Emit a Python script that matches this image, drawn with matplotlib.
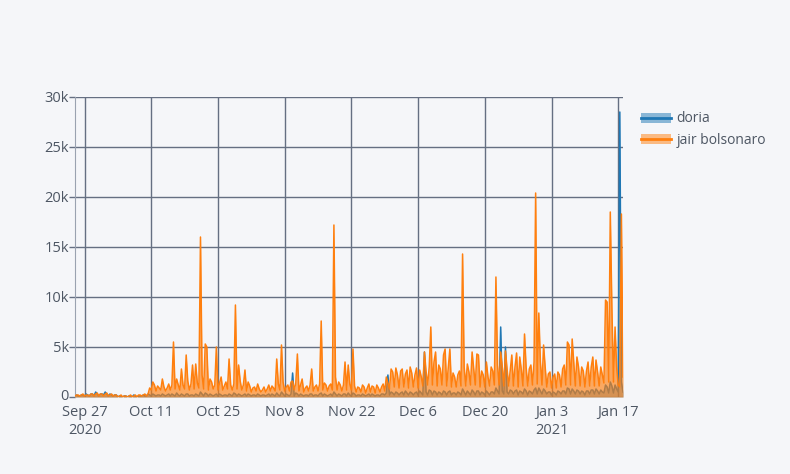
import numpy as np
import pandas as pd
import matplotlib
matplotlib.use("Agg")
from matplotlib import pyplot as plt
from matplotlib.patches import Patch
from matplotlib.lines import Line2D
from matplotlib.transforms import ScaledTranslation

# valeurs en milliers, 3 points par jour (0h, 8h, 16h) a partir du 25 sept 2020
jair_sep = [0.1,0.2,0.2, 0.1,0.2,0.3, 0.1,0.2,0.2, 0.1,0.3,0.3, 0.1,0.3,0.4, 0.1,0.3,0.3]
jair_oct = [0.1,0.3,0.4, 0.1,0.2,0.3, 0.1,0.2,0.2, 0.0,0.1,0.2, 0.0,0.1,0.1, 0.0,0.1,0.2,
            0.0,0.1,0.2, 0.0,0.2,0.2, 0.1,0.2,0.3, 0.1,0.3,0.9, 0.7,1.5,1.2, 0.6,1.1,0.9,
            0.7,1.8,1.0, 0.6,0.9,1.3, 0.7,1.2,5.5, 0.8,1.8,1.2, 0.7,2.8,1.2, 0.8,4.2,1.6,
            0.7,1.3,3.2, 0.8,3.3,1.4, 0.9,16.0,2.2, 0.8,5.3,5.0, 0.7,1.8,1.5, 0.8,1.2,5.0,
            0.7,1.4,2.0, 0.7,1.1,1.5, 0.8,3.8,1.2, 0.7,1.3,9.2, 0.8,3.2,1.6, 0.7,1.2,2.7,
            0.6,1.5,1.1]
jair_nov = [0.5,0.9,1.0, 0.6,1.3,0.8, 0.5,0.7,1.0, 0.5,0.8,1.2, 0.6,1.1,0.9, 0.6,3.8,1.3,
            0.7,5.2,1.5, 0.6,1.0,1.2, 0.6,1.5,1.6, 0.7,1.4,4.3, 0.6,1.2,1.8, 0.5,0.9,1.1,
            0.6,1.2,2.8, 0.6,1.0,1.2, 0.6,1.3,7.6, 0.7,1.4,1.2, 0.6,1.1,1.3, 0.7,17.2,2.0,
            0.7,1.5,1.2, 0.6,1.2,3.5, 0.7,3.2,1.3, 0.7,4.8,1.1, 0.5,1.0,0.9, 0.5,1.2,1.0,
            0.4,0.9,1.3, 0.5,1.1,1.0, 0.4,1.2,0.9, 0.5,1.0,1.3, 0.6,2.0,1.4, 0.8,2.8,2.5]
jair_dec = [1.0,2.9,2.2, 0.9,2.6,2.8, 1.0,2.3,2.7, 0.9,3.0,2.4, 1.0,2.2,2.9, 0.9,2.7,2.0,
            1.1,4.5,2.6, 1.2,3.0,7.0, 1.2,3.5,4.5, 1.1,3.2,2.8, 1.2,4.2,4.8, 1.1,3.0,4.8,
            1.0,2.4,2.0, 1.0,2.2,2.6, 1.1,14.3,3.0, 1.1,3.3,2.5, 1.2,4.5,2.8, 1.2,4.3,4.2,
            1.0,2.6,2.2, 1.0,3.5,2.0, 1.1,3.0,2.6, 1.2,12.0,3.2, 1.2,4.5,3.0, 1.1,4.6,2.8,
            1.1,2.6,4.2, 1.1,3.0,4.4, 1.0,4.0,2.7, 1.1,6.3,3.0, 1.1,2.8,3.2, 1.2,3.5,20.4,
            1.3,8.4,3.5]
jair_jan = [1.2,5.2,3.0, 1.0,2.3,2.5, 0.9,2.0,2.3, 0.9,2.5,2.2, 1.0,2.8,3.2, 1.2,5.5,5.2,
            1.2,5.8,3.5, 1.1,4.0,3.0, 1.1,3.0,2.6, 1.0,2.6,3.5, 1.1,3.0,4.0, 1.1,3.7,2.5,
            1.1,3.0,2.2, 1.4,9.7,9.5, 1.5,18.5,9.0, 1.5,7.0,3.0, 1.2,1.0,18.3, 2.0]

doria_sep = [0.1,0.2,0.1, 0.1,0.2,0.2, 0.1,0.3,0.2, 0.1,0.3,0.3, 0.1,0.5,0.3, 0.1,0.3,0.3]
doria_oct = [0.2,0.5,0.3, 0.1,0.3,0.2, 0.1,0.2,0.2, 0.0,0.1,0.1, 0.0,0.1,0.1, 0.0,0.1,0.1,
             0.0,0.2,0.1, 0.0,0.1,0.1, 0.1,0.2,0.1, 0.1,0.3,0.2, 0.1,0.3,0.2, 0.1,0.2,0.2,
             0.1,0.3,0.2, 0.1,0.2,0.3, 0.1,0.3,0.2, 0.1,0.4,0.2, 0.1,0.3,0.2, 0.1,0.3,0.3,
             0.1,0.2,0.2, 0.1,0.3,0.2, 0.1,0.5,0.3, 0.1,0.4,0.3, 0.1,0.3,0.2, 0.1,0.2,0.3,
             0.1,0.3,0.2, 0.1,0.2,0.2, 0.1,0.3,0.2, 0.1,0.4,0.3, 0.1,0.3,0.2, 0.1,0.2,0.3,
             0.1,0.3,0.2]
doria_nov = [0.1,0.2,0.2, 0.1,0.3,0.2, 0.1,0.2,0.2, 0.1,0.2,0.3, 0.1,0.3,0.2, 0.1,0.4,0.2,
             0.1,0.5,0.3, 0.1,0.3,0.2, 0.1,0.3,2.4, 0.1,0.4,0.3, 0.1,0.3,0.2, 0.1,0.2,0.2,
             0.1,0.3,0.3, 0.1,0.2,0.2, 0.1,0.3,0.4, 0.1,0.3,0.2, 0.1,0.2,0.3, 0.1,0.5,0.3,
             0.1,0.3,0.2, 0.1,0.3,0.3, 0.1,0.4,0.2, 0.1,0.4,0.3, 0.1,0.2,0.2, 0.1,0.3,0.2,
             0.1,0.2,0.3, 0.1,0.3,0.2, 0.1,0.2,0.2, 0.1,0.3,0.3, 0.2,0.4,2.2, 0.2,0.5,0.4]
doria_dec = [0.2,0.5,0.4, 0.2,0.4,0.5, 0.2,0.6,0.4, 0.2,0.5,0.4, 0.2,0.4,0.5, 0.2,0.6,0.4,
             0.2,4.5,0.5, 0.2,0.7,0.6, 0.2,0.6,0.5, 0.2,0.5,0.4, 0.2,0.6,0.5, 0.2,0.5,0.6,
             0.2,0.4,0.4, 0.2,0.5,0.4, 0.2,0.8,0.5, 0.2,0.6,0.4, 0.2,0.7,0.5, 0.2,0.6,0.6,
             0.2,0.5,0.4, 0.2,0.6,0.4, 0.2,0.5,0.5, 0.3,0.9,0.6, 0.3,7.0,0.6, 0.3,5.0,0.5,
             0.3,0.7,0.6, 0.3,0.6,0.7, 0.2,0.6,0.5, 0.3,0.8,0.6, 0.2,0.6,0.5, 0.3,0.7,0.9,
             0.3,0.9,0.6]
doria_jan = [0.3,0.8,0.6, 0.3,0.5,0.5, 0.2,0.5,0.4, 0.2,0.6,0.5, 0.3,0.6,0.6, 0.3,0.9,0.8,
             0.3,0.8,0.6, 0.3,0.7,0.6, 0.3,0.6,0.5, 0.2,0.6,0.6, 0.3,0.7,0.7, 0.3,0.8,0.6,
             0.3,0.7,0.5, 0.4,1.2,1.0, 0.4,1.5,1.1, 0.4,1.2,0.8, 0.5,28.5,1.5, 0.5]

jair = np.array(jair_sep + jair_oct + jair_nov + jair_dec + jair_jan) * 1000
doria = np.array(doria_sep + doria_oct + doria_nov + doria_dec + doria_jan) * 1000
dates = pd.date_range("2020-09-25", periods=len(jair), freq="8h")

tick_dates = pd.date_range("2020-09-27", "2021-01-17", freq="14D")
tick_labels = ["Sep 27\n2020", "Oct 11", "Oct 25", "Nov 8", "Nov 22", "Dec 6",
               "Dec 20", "Jan 3\n2021", "Jan 17"]
y_ticks = [0, 5000, 10000, 15000, 20000, 25000, 30000]
y_labels = ["0", "5k", "10k", "15k", "20k", "25k", "30k"]

bleu = "#1f77b4"
orange = "#ff7f0e"
fond = "#f5f6f9"
grille = "#656f82"
texte = "#4d5663"

plt.rcParams["font.family"] = ["Open Sans", "DejaVu Sans"]

fig = plt.figure(figsize=(7.9, 4.74), dpi=100, facecolor=fond)
ax = fig.add_axes([75/790, 1 - 397/474, 548/790, 300/474], facecolor=fond)

ax.fill_between(dates, doria, 0, color=bleu, alpha=0.5, lw=0, zorder=1)
ax.plot(dates, doria, color=bleu, lw=1.1, zorder=2)
ax.fill_between(dates, jair, 0, color=orange, alpha=0.65, lw=0, zorder=3)
ax.plot(dates, jair, color=orange, lw=1.1, zorder=4)

ax.set_xlim(dates[0], dates[-1])
ax.set_ylim(0, 30000)
ax.set_xticks(tick_dates)
ax.set_xticklabels(tick_labels, linespacing=1.2)
ax.set_yticks(y_ticks)
ax.set_yticklabels(y_labels)
ax.grid(True, color=grille, lw=1)
ax.set_axisbelow(True)
ax.tick_params(colors=grille, labelcolor=texte, labelsize=10.5, length=4, width=1)
ax.tick_params(axis="x", length=0, pad=6)
ax.tick_params(axis="y", pad=0.5)
for s in ["top", "right", "bottom"]:
    ax.spines[s].set_visible(False)
ax.spines["left"].set_color("#9aa2b0")

# le "0" remonte un peu pour ne pas toucher "Sep 27"
zero = ax.get_yticklabels()[0]
zero.set_transform(zero.get_transform() + ScaledTranslation(0, 2/100, fig.dpi_scale_trans))

handles = [(Patch(color=bleu, alpha=0.5, lw=0), Line2D([], [], color=bleu, lw=2)),
           (Patch(color=orange, alpha=0.5, lw=0), Line2D([], [], color=orange, lw=2))]
fig.legend(handles, ["doria", "jair bolsonaro"], loc="upper left",
           bbox_to_anchor=(628/790, 1 - 99/474), frameon=False,
           labelcolor=texte, fontsize=10, handlelength=2.2, handletextpad=0.4,
           labelspacing=0.45)

fig.savefig("out.png", dpi=100, facecolor=fond)
